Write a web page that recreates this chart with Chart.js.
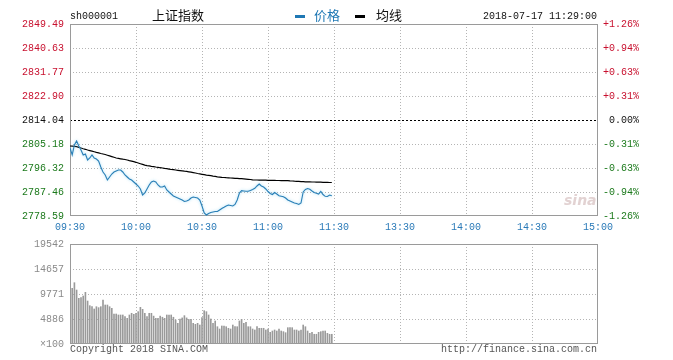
<!DOCTYPE html>
<html><head><meta charset="utf-8">
<script src="https://cdn.jsdelivr.net/npm/chart.js@4.4.1/dist/chart.umd.min.js"></script>
<style>
html,body{margin:0;padding:0;background:#fff;width:673px;height:360px;overflow:hidden;}
#wrap{position:relative;width:673px;height:360px;}
canvas{position:absolute;left:0;}
.t{position:absolute;white-space:nowrap;line-height:1;}
.mono{font-family:'Liberation Mono','DejaVu Sans Mono',monospace;font-size:10px;}
.cjk{font-family:'Noto Sans CJK SC',sans-serif;font-size:13px;color:#111;}
.dash{position:absolute;height:3px;width:10px;}
</style></head><body>
<div id="wrap">
<canvas id="main" width="673" height="240" style="top:0"></canvas>
<canvas id="vol" width="673" height="128" style="top:232px"></canvas>
<div class="t mono" style="left:70px;top:12px;color:#111">sh000001</div>
<div class="t cjk" style="left:152px;top:8px">上证指数</div>
<div class="dash" style="left:295px;top:15px;background:#1f78b4"></div>
<div class="t cjk" style="left:314px;top:8px;color:#1f78b4">价格</div>
<div class="dash" style="left:355px;top:15px;background:#000"></div>
<div class="t cjk" style="left:376px;top:8px">均线</div>
<div class="t mono" style="left:483px;top:12px;color:#111">2018-07-17 11:29:00</div>
<div class="t mono" style="left:70px;top:345px;color:#555">Copyright 2018 SINA.COM</div>
<div class="t mono" style="left:441px;top:345px;color:#555">http://finance.sina.com.cn</div>
<div class="t" style="left:564px;top:193px;font-family:'DejaVu Sans',sans-serif;font-style:italic;font-weight:bold;font-size:14px;color:#e2d2d2">sina</div>
</div>
<script>
// ---- data ----
const timeLabels = ['09:30','10:00','10:30','11:00','11:30','13:30','14:00','14:30','15:00'];
const priceTicks = [2778.59,2787.46,2796.32,2805.18,2814.04,2822.90,2831.77,2840.63,2849.49];
const pctLabels = ['-1.26%','-0.94%','-0.63%','-0.31%',' 0.00%','+0.31%','+0.63%','+0.94%','+1.26%'];
const volTicks = [0,4885.5,9771,14656.5,19542];
const volTickLabels = ['\u00d7100','4886','9771','14657','19542'];
const prevClose = 2814.04;

const price = [
2803.70,2801.12,2804.81,2806.29,2804.44,2802.96,2801.12,2801.48,2799.27,2800.01,
2801.12,2800.01,2799.64,2798.90,2796.68,2794.84,2793.73,2791.88,2792.99,2794.10,
2794.84,2795.21,2795.58,2795.58,2794.84,2793.73,2792.99,2792.25,2791.88,2791.15,
2790.41,2789.67,2788.56,2786.34,2787.08,2788.56,2790.04,2791.15,2791.51,2791.15,
2790.04,2789.30,2789.30,2789.67,2788.19,2787.45,2786.71,2785.98,2785.61,2785.24,
2784.87,2784.50,2783.94,2784.13,2784.50,2785.24,2785.61,2785.42,2785.24,2784.50,
2782.28,2779.70,2778.96,2779.51,2779.88,2780.07,2780.25,2780.25,2780.81,2781.36,
2781.80,2782.28,2782.65,2782.47,2782.28,2782.84,2784.50,2787.08,2787.93,2787.82,
2787.71,2787.71,2788.01,2788.38,2788.82,2789.67,2790.41,2789.67,2789.30,2788.56,
2787.64,2786.90,2786.53,2787.27,2786.71,2786.09,2785.90,2785.72,2785.24,2784.50,
2784.13,2783.76,2783.39,2783.21,2782.84,2783.39,2787.45,2788.38,2788.75,2788.45,
2787.82,2787.27,2786.97,2786.71,2787.64,2786.53,2785.86,2785.79,2786.34,2786.09
];
const avgLine = [
2804.44,2804.37,2804.29,2804.18,2803.96,2803.70,2803.44,2803.22,2802.96,2802.74,
2802.52,2802.30,2802.08,2801.89,2801.67,2801.49,2801.30,2801.04,2800.78,2800.53,
2800.27,2800.01,2799.86,2799.71,2799.57,2799.46,2799.27,2799.05,2798.86,2798.64,
2798.42,2798.16,2797.90,2797.64,2797.39,2797.20,2797.09,2796.94,2796.83,2796.68,
2796.57,2796.42,2796.32,2796.17,2796.06,2795.91,2795.76,2795.69,2795.58,2795.47,
2795.36,2795.25,2795.13,2795.06,2794.91,2794.77,2794.62,2794.47,2794.28,2794.14,
2793.99,2793.84,2793.69,2793.58,2793.47,2793.32,2793.21,2793.07,2792.96,2792.84,
2792.81,2792.73,2792.70,2792.62,2792.59,2792.51,2792.48,2792.40,2792.36,2792.29,
2792.22,2792.14,2792.07,2791.96,2791.88,2791.88,2791.85,2791.85,2791.81,2791.81,
2791.77,2791.77,2791.74,2791.74,2791.70,2791.70,2791.66,2791.66,2791.63,2791.63,
2791.55,2791.52,2791.44,2791.40,2791.37,2791.29,2791.26,2791.22,2791.22,2791.18,
2791.15,2791.15,2791.11,2791.07,2791.07,2791.03,2791.00,2791.00,2790.96,2790.96
];
const volume = [
19542,10885,11980,10550,8930,9050,9380,10100,8400,7490,
7290,6840,7290,7100,7290,8600,7620,7620,7290,6970,
5860,5860,5670,5670,5670,5340,5020,5670,6000,5800,
6000,6320,7170,6780,6000,5340,6000,6000,5450,5020,
5020,5450,5230,5020,5670,5670,5670,5230,4690,4040,
4885,5100,5540,5100,4800,4800,4040,3850,4040,3710,
5140,6510,6320,5670,4885,4040,4500,3380,2930,3520,
3520,3380,3070,2930,3710,3380,3380,4500,4820,4040,
4240,3380,3380,2930,2740,3380,3070,3070,3070,2740,
2930,2280,2540,2740,2540,2930,2540,2410,2210,3190,
3190,3190,2740,2740,2540,2740,3710,3380,2540,2090,
2280,1900,1900,2280,2410,2540,2540,2090,1900,1900
];

// ---- helpers ----
const MONO = "'Liberation Mono','DejaVu Sans Mono',monospace";
const RED = '#c8102e', GREEN = '#1c7a1c', BLACK = '#111';
const xTickVals = timeLabels.map((_, i) => i * 30);

function gridPlugin(yVals, zeroVal) {
  return {
    id: 'customGrid',
    beforeDatasetsDraw(chart) {
      const { ctx, chartArea: a, scales } = chart;
      const sx = scales.x, sy = scales.y;
      ctx.save();
      ctx.lineWidth = 1;
      ctx.strokeStyle = '#b4b4b4';
      ctx.setLineDash([1, 2]);
      xTickVals.forEach(v => {
        if (v <= 0 || v >= 240) return;
        const px = Math.round(sx.getPixelForValue(v)) + 0.5;
        ctx.beginPath(); ctx.moveTo(px, a.top); ctx.lineTo(px, a.bottom); ctx.stroke();
      });
      yVals.forEach((v, i) => {
        if (i === 0 || i === yVals.length - 1) return;
        const py = Math.round(sy.getPixelForValue(v)) + 0.5;
        if (zeroVal !== null && v === zeroVal) {
          ctx.save(); ctx.strokeStyle = '#000'; ctx.setLineDash([2, 2]);
          ctx.beginPath(); ctx.moveTo(a.left, py); ctx.lineTo(a.right, py); ctx.stroke();
          ctx.restore();
        } else {
          ctx.beginPath(); ctx.moveTo(a.left, py); ctx.lineTo(a.right, py); ctx.stroke();
        }
      });
      ctx.setLineDash([]);
      ctx.strokeStyle = '#9a9a9a';
      ctx.strokeRect(a.left + 0.5, a.top + 0.5, a.right - a.left - 1, a.bottom - a.top - 1);
      ctx.restore();
    }
  };
}

const shadowPlugin = {
  id: 'lineShadow',
  beforeDatasetDraw(chart, args) {
    if (args.index === 1) {
      chart.ctx.save();
      chart.ctx.shadowColor = 'rgba(110,200,240,0.7)';
      chart.ctx.shadowBlur = 3;
    }
  },
  afterDatasetDraw(chart, args) {
    if (args.index === 1) chart.ctx.restore();
  }
};

function tickColor(i) { return i < 4 ? GREEN : (i === 4 ? BLACK : RED); }

// ---- main chart ----
new Chart(document.getElementById('main'), {
  type: 'line',
  data: {
    datasets: [
      { data: avgLine.map((v, i) => ({ x: i, y: v })), borderColor: '#000', borderWidth: 1.2, pointRadius: 0, tension: 0, order: 2 },
      { data: price.map((v, i) => ({ x: i, y: v })), borderColor: '#2a7fb6', borderWidth: 1.1, pointRadius: 0, tension: 0, order: 1 }
    ]
  },
  options: {
    responsive: false, animation: false, devicePixelRatio: 1,
    layout: { padding: { top: 24, left: 0, right: 0, bottom: 0 } },
    plugins: { legend: { display: false }, tooltip: { enabled: false } },
    scales: {
      x: {
        type: 'linear', min: 0, max: 240,
        grid: { display: false, drawTicks: false }, border: { display: false },
        afterBuildTicks: s => { s.ticks = xTickVals.map(v => ({ value: v })); },
        afterFit: s => { s.height = 24; },
        ticks: { autoSkip: false, maxRotation: 0, padding: 5, color: '#2a7ab8',
          font: { family: MONO, size: 10 },
          callback: (v, i) => timeLabels[i] }
      },
      y: {
        position: 'left', min: priceTicks[0], max: priceTicks[priceTicks.length - 1],
        grid: { display: false, drawTicks: false }, border: { display: false },
        afterBuildTicks: s => { s.ticks = priceTicks.map(v => ({ value: v })); },
        afterFit: s => { s.width = 70; },
        ticks: { padding: 6, font: { family: MONO, size: 10 },
          color: c => tickColor(c.index),
          callback: (v, i) => priceTicks[i].toFixed(2) }
      },
      y2: {
        position: 'right', min: priceTicks[0], max: priceTicks[priceTicks.length - 1],
        grid: { display: false, drawTicks: false }, border: { display: false },
        afterBuildTicks: s => { s.ticks = priceTicks.map(v => ({ value: v })); },
        afterFit: s => { s.width = 75; },
        ticks: { padding: 5, font: { family: MONO, size: 10 },
          color: c => tickColor(c.index),
          callback: (v, i) => pctLabels[i] }
      }
    }
  },
  plugins: [gridPlugin(priceTicks, prevClose), shadowPlugin]
});

// ---- volume chart ----
new Chart(document.getElementById('vol'), {
  type: 'bar',
  data: {
    datasets: [
      { data: volume.map((v, i) => ({ x: i, y: v })), backgroundColor: '#9a9a9a', borderWidth: 0, barThickness: 1 }
    ]
  },
  options: {
    responsive: false, animation: false, devicePixelRatio: 1,
    layout: { padding: { top: 12, left: 0, right: 75, bottom: 16 } },
    plugins: { legend: { display: false }, tooltip: { enabled: false } },
    scales: {
      x: { type: 'linear', min: 0, max: 240, display: false, offset: false, grid: { display: false } },
      y: {
        position: 'left', min: 0, max: volTicks[volTicks.length - 1],
        grid: { display: false, drawTicks: false }, border: { display: false },
        afterBuildTicks: s => { s.ticks = volTicks.map(v => ({ value: v })); },
        afterFit: s => { s.width = 70; },
        ticks: { padding: 6, color: '#8a8a8a', font: { family: MONO, size: 10 },
          callback: (v, i) => volTickLabels[i] }
      }
    }
  },
  plugins: [gridPlugin(volTicks, null)]
});
</script>
</body></html>
